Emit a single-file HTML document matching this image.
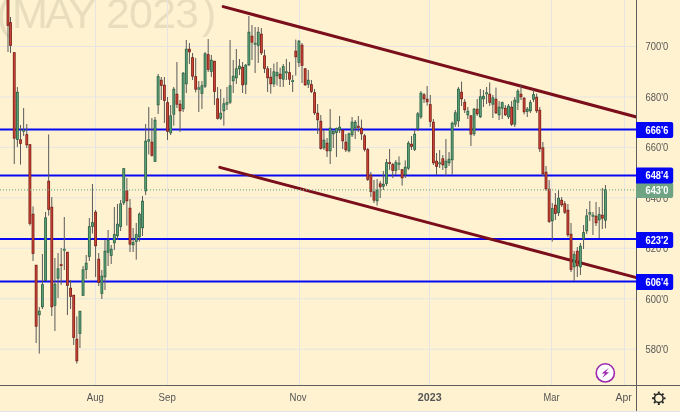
<!DOCTYPE html>
<html><head><meta charset="utf-8"><title>Chart</title>
<style>html,body{margin:0;padding:0;background:#FEF2D0;}body{width:680px;height:412px;overflow:hidden;}svg{display:block;will-change:transform;}text{font-family:"Liberation Sans",sans-serif;}</style>
</head><body>
<svg width="680" height="412" viewBox="0 0 680 412">
<rect x="0" y="0" width="680" height="412" fill="#FEF2D0"/>
<text x="-3.5 12 45 68 92 106 129 152.3 175 202" y="27.7" font-size="43" fill="#E8DDBC">(MAY 2023)</text>
<defs><clipPath id="plot"><rect x="0" y="0" width="636" height="385"/></clipPath></defs>
<g clip-path="url(#plot)">
<line x1="95.5" y1="0" x2="95.5" y2="385" stroke="#E7E5E3" stroke-width="1"/>
<line x1="167.5" y1="0" x2="167.5" y2="385" stroke="#E7E5E3" stroke-width="1"/>
<line x1="299.5" y1="0" x2="299.5" y2="385" stroke="#E7E5E3" stroke-width="1"/>
<line x1="429.5" y1="0" x2="429.5" y2="385" stroke="#E7E5E3" stroke-width="1"/>
<line x1="551.5" y1="0" x2="551.5" y2="385" stroke="#E7E5E3" stroke-width="1"/>
<line x1="624.5" y1="0" x2="624.5" y2="385" stroke="#E7E5E3" stroke-width="1"/>
<line x1="0" y1="46.5" x2="636" y2="46.5" stroke="#E7E5E3" stroke-width="1"/>
<line x1="0" y1="97.0" x2="636" y2="97.0" stroke="#E7E5E3" stroke-width="1"/>
<line x1="0" y1="147.4" x2="636" y2="147.4" stroke="#E7E5E3" stroke-width="1"/>
<line x1="0" y1="197.8" x2="636" y2="197.8" stroke="#E7E5E3" stroke-width="1"/>
<line x1="0" y1="248.3" x2="636" y2="248.3" stroke="#E7E5E3" stroke-width="1"/>
<line x1="0" y1="298.8" x2="636" y2="298.8" stroke="#E7E5E3" stroke-width="1"/>
<line x1="0" y1="349.2" x2="636" y2="349.2" stroke="#E7E5E3" stroke-width="1"/>
<line x1="0" y1="129.5" x2="636" y2="129.5" stroke="#0808F2" stroke-width="2"/>
<line x1="0" y1="175.5" x2="636" y2="175.5" stroke="#0808F2" stroke-width="2"/>
<line x1="0" y1="239.1" x2="636" y2="239.1" stroke="#0808F2" stroke-width="2"/>
<line x1="0" y1="281.5" x2="636" y2="281.5" stroke="#0808F2" stroke-width="2"/>
<line x1="223.2" y1="6.6" x2="640" y2="117.9" stroke="#7B0E1B" stroke-width="3" stroke-linecap="round"/>
<line x1="219.8" y1="167.4" x2="640" y2="278.6" stroke="#7B0E1B" stroke-width="3" stroke-linecap="round"/>
<line x1="8.00" y1="-5.0" x2="8.00" y2="52.0" stroke="#5a5a5a" stroke-width="1"/>
<rect x="6.60" y="-5.2" width="2.8" height="31.0" fill="#74201A"/>
<rect x="7.35" y="-4.4" width="1.3" height="29.4" fill="#CA4233"/>
<line x1="10.50" y1="17.0" x2="10.50" y2="53.0" stroke="#5a5a5a" stroke-width="1"/>
<rect x="9.10" y="22.2" width="2.8" height="23.6" fill="#74201A"/>
<rect x="9.85" y="23.0" width="1.3" height="22.0" fill="#CA4233"/>
<line x1="14.26" y1="52.4" x2="14.26" y2="164.0" stroke="#5a5a5a" stroke-width="1"/>
<rect x="12.86" y="52.2" width="2.8" height="86.4" fill="#74201A"/>
<rect x="13.61" y="53.0" width="1.3" height="84.8" fill="#CA4233"/>
<line x1="17.38" y1="87.0" x2="17.38" y2="147.0" stroke="#5a5a5a" stroke-width="1"/>
<rect x="15.98" y="91.8" width="2.8" height="48.0" fill="#2A6042"/>
<rect x="16.73" y="92.6" width="1.3" height="46.4" fill="#5A9E78"/>
<line x1="20.51" y1="125.0" x2="20.51" y2="164.6" stroke="#5a5a5a" stroke-width="1"/>
<rect x="19.11" y="139.4" width="2.8" height="4.4" fill="#74201A"/>
<rect x="19.86" y="140.2" width="1.3" height="2.8" fill="#CA4233"/>
<line x1="23.64" y1="108.0" x2="23.64" y2="136.0" stroke="#5a5a5a" stroke-width="1"/>
<rect x="22.24" y="129.8" width="2.8" height="1.8" fill="#2A6042"/>
<rect x="22.99" y="130.2" width="1.3" height="1.0" fill="#5A9E78"/>
<line x1="26.77" y1="124.0" x2="26.77" y2="148.0" stroke="#5a5a5a" stroke-width="1"/>
<rect x="25.37" y="134.2" width="2.8" height="11.0" fill="#74201A"/>
<rect x="26.12" y="135.0" width="1.3" height="9.4" fill="#CA4233"/>
<line x1="29.90" y1="144.4" x2="29.90" y2="225.6" stroke="#5a5a5a" stroke-width="1"/>
<rect x="28.50" y="144.2" width="2.8" height="79.6" fill="#74201A"/>
<rect x="29.25" y="145.0" width="1.3" height="78.0" fill="#CA4233"/>
<line x1="33.02" y1="206.4" x2="33.02" y2="261.0" stroke="#5a5a5a" stroke-width="1"/>
<rect x="31.62" y="213.8" width="2.8" height="40.0" fill="#74201A"/>
<rect x="32.37" y="214.6" width="1.3" height="38.4" fill="#CA4233"/>
<line x1="36.15" y1="265.0" x2="36.15" y2="343.0" stroke="#5a5a5a" stroke-width="1"/>
<rect x="34.75" y="264.8" width="2.8" height="61.8" fill="#74201A"/>
<rect x="35.50" y="265.6" width="1.3" height="60.2" fill="#CA4233"/>
<line x1="39.28" y1="307.0" x2="39.28" y2="353.6" stroke="#5a5a5a" stroke-width="1"/>
<rect x="37.88" y="310.8" width="2.8" height="4.4" fill="#2A6042"/>
<rect x="38.63" y="311.6" width="1.3" height="2.8" fill="#5A9E78"/>
<line x1="42.41" y1="254.0" x2="42.41" y2="309.0" stroke="#5a5a5a" stroke-width="1"/>
<rect x="41.01" y="284.2" width="2.8" height="23.0" fill="#2A6042"/>
<rect x="41.76" y="285.0" width="1.3" height="21.4" fill="#5A9E78"/>
<line x1="45.54" y1="212.0" x2="45.54" y2="280.6" stroke="#5a5a5a" stroke-width="1"/>
<rect x="44.14" y="217.4" width="2.8" height="63.4" fill="#2A6042"/>
<rect x="44.89" y="218.2" width="1.3" height="61.8" fill="#5A9E78"/>
<line x1="48.66" y1="134.4" x2="48.66" y2="215.6" stroke="#5a5a5a" stroke-width="1"/>
<rect x="47.26" y="180.8" width="2.8" height="29.0" fill="#74201A"/>
<rect x="48.01" y="181.6" width="1.3" height="27.4" fill="#CA4233"/>
<line x1="51.79" y1="197.0" x2="51.79" y2="316.0" stroke="#5a5a5a" stroke-width="1"/>
<rect x="50.39" y="206.8" width="2.8" height="100.4" fill="#74201A"/>
<rect x="51.14" y="207.6" width="1.3" height="98.8" fill="#CA4233"/>
<line x1="54.92" y1="258.0" x2="54.92" y2="331.0" stroke="#5a5a5a" stroke-width="1"/>
<rect x="53.52" y="283.8" width="2.8" height="22.0" fill="#2A6042"/>
<rect x="54.27" y="284.6" width="1.3" height="20.4" fill="#5A9E78"/>
<line x1="58.05" y1="253.0" x2="58.05" y2="298.0" stroke="#5a5a5a" stroke-width="1"/>
<rect x="56.65" y="268.4" width="2.8" height="10.2" fill="#2A6042"/>
<rect x="57.40" y="269.2" width="1.3" height="8.6" fill="#5A9E78"/>
<line x1="61.18" y1="248.0" x2="61.18" y2="285.0" stroke="#5a5a5a" stroke-width="1"/>
<rect x="59.78" y="264.2" width="2.8" height="1.8" fill="#74201A"/>
<rect x="60.53" y="264.6" width="1.3" height="1.0" fill="#CA4233"/>
<line x1="64.30" y1="217.0" x2="64.30" y2="270.0" stroke="#5a5a5a" stroke-width="1"/>
<rect x="62.90" y="248.8" width="2.8" height="1.8" fill="#2A6042"/>
<rect x="63.65" y="249.2" width="1.3" height="1.0" fill="#5A9E78"/>
<line x1="67.43" y1="252.0" x2="67.43" y2="315.0" stroke="#5a5a5a" stroke-width="1"/>
<rect x="66.03" y="251.8" width="2.8" height="34.0" fill="#74201A"/>
<rect x="66.78" y="252.6" width="1.3" height="32.4" fill="#CA4233"/>
<line x1="70.56" y1="280.0" x2="70.56" y2="309.0" stroke="#5a5a5a" stroke-width="1"/>
<rect x="69.16" y="287.8" width="2.8" height="9.0" fill="#74201A"/>
<rect x="69.91" y="288.6" width="1.3" height="7.4" fill="#CA4233"/>
<line x1="73.69" y1="295.0" x2="73.69" y2="345.0" stroke="#5a5a5a" stroke-width="1"/>
<rect x="72.29" y="294.8" width="2.8" height="43.0" fill="#74201A"/>
<rect x="73.04" y="295.6" width="1.3" height="41.4" fill="#CA4233"/>
<line x1="76.82" y1="316.4" x2="76.82" y2="363.6" stroke="#5a5a5a" stroke-width="1"/>
<rect x="75.42" y="338.8" width="2.8" height="22.4" fill="#74201A"/>
<rect x="76.17" y="339.6" width="1.3" height="20.8" fill="#CA4233"/>
<line x1="79.94" y1="311.0" x2="79.94" y2="348.0" stroke="#5a5a5a" stroke-width="1"/>
<rect x="78.54" y="310.8" width="2.8" height="23.0" fill="#2A6042"/>
<rect x="79.29" y="311.6" width="1.3" height="21.4" fill="#5A9E78"/>
<line x1="83.07" y1="266.0" x2="83.07" y2="295.6" stroke="#5a5a5a" stroke-width="1"/>
<rect x="81.67" y="269.4" width="2.8" height="26.4" fill="#2A6042"/>
<rect x="82.42" y="270.2" width="1.3" height="24.8" fill="#5A9E78"/>
<line x1="86.20" y1="255.0" x2="86.20" y2="279.0" stroke="#5a5a5a" stroke-width="1"/>
<rect x="84.80" y="262.8" width="2.8" height="7.0" fill="#2A6042"/>
<rect x="85.55" y="263.6" width="1.3" height="5.4" fill="#5A9E78"/>
<line x1="89.33" y1="218.0" x2="89.33" y2="261.0" stroke="#5a5a5a" stroke-width="1"/>
<rect x="87.93" y="226.2" width="2.8" height="30.6" fill="#2A6042"/>
<rect x="88.68" y="227.0" width="1.3" height="29.0" fill="#5A9E78"/>
<line x1="92.46" y1="184.0" x2="92.46" y2="233.6" stroke="#5a5a5a" stroke-width="1"/>
<rect x="91.06" y="222.2" width="2.8" height="4.6" fill="#2A6042"/>
<rect x="91.81" y="223.0" width="1.3" height="3.0" fill="#5A9E78"/>
<line x1="95.58" y1="210.0" x2="95.58" y2="277.0" stroke="#5a5a5a" stroke-width="1"/>
<rect x="94.18" y="211.8" width="2.8" height="34.4" fill="#74201A"/>
<rect x="94.93" y="212.6" width="1.3" height="32.8" fill="#CA4233"/>
<line x1="98.71" y1="253.0" x2="98.71" y2="286.0" stroke="#5a5a5a" stroke-width="1"/>
<rect x="97.31" y="258.8" width="2.8" height="24.0" fill="#74201A"/>
<rect x="98.06" y="259.6" width="1.3" height="22.4" fill="#CA4233"/>
<line x1="101.84" y1="270.0" x2="101.84" y2="299.0" stroke="#5a5a5a" stroke-width="1"/>
<rect x="100.44" y="275.8" width="2.8" height="18.0" fill="#2A6042"/>
<rect x="101.19" y="276.6" width="1.3" height="16.4" fill="#5A9E78"/>
<line x1="104.97" y1="240.0" x2="104.97" y2="290.0" stroke="#5a5a5a" stroke-width="1"/>
<rect x="103.57" y="250.8" width="2.8" height="26.4" fill="#2A6042"/>
<rect x="104.32" y="251.6" width="1.3" height="24.8" fill="#5A9E78"/>
<line x1="108.10" y1="230.0" x2="108.10" y2="266.0" stroke="#5a5a5a" stroke-width="1"/>
<rect x="106.70" y="240.2" width="2.8" height="12.4" fill="#2A6042"/>
<rect x="107.45" y="241.0" width="1.3" height="10.8" fill="#5A9E78"/>
<line x1="111.22" y1="245.0" x2="111.22" y2="264.0" stroke="#5a5a5a" stroke-width="1"/>
<rect x="109.82" y="248.8" width="2.8" height="7.0" fill="#2A6042"/>
<rect x="110.57" y="249.6" width="1.3" height="5.4" fill="#5A9E78"/>
<line x1="114.35" y1="207.0" x2="114.35" y2="250.0" stroke="#5a5a5a" stroke-width="1"/>
<rect x="112.95" y="234.2" width="2.8" height="9.0" fill="#2A6042"/>
<rect x="113.70" y="235.0" width="1.3" height="7.4" fill="#5A9E78"/>
<line x1="117.48" y1="204.0" x2="117.48" y2="240.0" stroke="#5a5a5a" stroke-width="1"/>
<rect x="116.08" y="223.8" width="2.8" height="12.4" fill="#2A6042"/>
<rect x="116.83" y="224.6" width="1.3" height="10.8" fill="#5A9E78"/>
<line x1="120.61" y1="200.0" x2="120.61" y2="231.0" stroke="#5a5a5a" stroke-width="1"/>
<rect x="119.21" y="203.4" width="2.8" height="23.4" fill="#2A6042"/>
<rect x="119.96" y="204.2" width="1.3" height="21.8" fill="#5A9E78"/>
<line x1="123.74" y1="168.4" x2="123.74" y2="205.0" stroke="#5a5a5a" stroke-width="1"/>
<rect x="122.34" y="168.2" width="2.8" height="35.0" fill="#2A6042"/>
<rect x="123.09" y="169.0" width="1.3" height="33.4" fill="#5A9E78"/>
<line x1="126.86" y1="178.0" x2="126.86" y2="225.6" stroke="#5a5a5a" stroke-width="1"/>
<rect x="125.46" y="190.4" width="2.8" height="10.8" fill="#74201A"/>
<rect x="126.21" y="191.2" width="1.3" height="9.2" fill="#CA4233"/>
<line x1="129.99" y1="199.0" x2="129.99" y2="252.0" stroke="#5a5a5a" stroke-width="1"/>
<rect x="128.59" y="207.8" width="2.8" height="36.8" fill="#74201A"/>
<rect x="129.34" y="208.6" width="1.3" height="35.2" fill="#CA4233"/>
<line x1="133.12" y1="228.0" x2="133.12" y2="252.0" stroke="#5a5a5a" stroke-width="1"/>
<rect x="131.72" y="242.2" width="2.8" height="3.0" fill="#2A6042"/>
<rect x="132.47" y="243.0" width="1.3" height="1.4" fill="#5A9E78"/>
<line x1="136.25" y1="223.0" x2="136.25" y2="259.6" stroke="#5a5a5a" stroke-width="1"/>
<rect x="134.85" y="234.2" width="2.8" height="7.6" fill="#2A6042"/>
<rect x="135.60" y="235.0" width="1.3" height="6.0" fill="#5A9E78"/>
<line x1="139.38" y1="212.4" x2="139.38" y2="241.6" stroke="#5a5a5a" stroke-width="1"/>
<rect x="137.98" y="213.8" width="2.8" height="23.4" fill="#2A6042"/>
<rect x="138.73" y="214.6" width="1.3" height="21.8" fill="#5A9E78"/>
<line x1="142.50" y1="196.0" x2="142.50" y2="236.0" stroke="#5a5a5a" stroke-width="1"/>
<rect x="141.10" y="200.8" width="2.8" height="27.4" fill="#2A6042"/>
<rect x="141.85" y="201.6" width="1.3" height="25.8" fill="#5A9E78"/>
<line x1="145.63" y1="124.0" x2="145.63" y2="195.0" stroke="#5a5a5a" stroke-width="1"/>
<rect x="144.23" y="140.8" width="2.8" height="50.4" fill="#2A6042"/>
<rect x="144.98" y="141.6" width="1.3" height="48.8" fill="#5A9E78"/>
<line x1="148.76" y1="107.0" x2="148.76" y2="154.5" stroke="#5a5a5a" stroke-width="1"/>
<rect x="147.36" y="139.2" width="2.8" height="2.4" fill="#2A6042"/>
<rect x="148.11" y="139.6" width="1.3" height="1.6" fill="#5A9E78"/>
<line x1="151.89" y1="118.0" x2="151.89" y2="156.6" stroke="#5a5a5a" stroke-width="1"/>
<rect x="150.49" y="141.8" width="2.8" height="14.0" fill="#74201A"/>
<rect x="151.24" y="142.6" width="1.3" height="12.4" fill="#CA4233"/>
<line x1="155.02" y1="117.0" x2="155.02" y2="161.6" stroke="#5a5a5a" stroke-width="1"/>
<rect x="153.62" y="119.8" width="2.8" height="42.0" fill="#2A6042"/>
<rect x="154.37" y="120.6" width="1.3" height="40.4" fill="#5A9E78"/>
<line x1="158.14" y1="74.0" x2="158.14" y2="114.0" stroke="#5a5a5a" stroke-width="1"/>
<rect x="156.74" y="76.2" width="2.8" height="29.0" fill="#2A6042"/>
<rect x="157.49" y="77.0" width="1.3" height="27.4" fill="#5A9E78"/>
<line x1="161.27" y1="77.0" x2="161.27" y2="100.0" stroke="#5a5a5a" stroke-width="1"/>
<rect x="159.87" y="79.8" width="2.8" height="6.0" fill="#74201A"/>
<rect x="160.62" y="80.6" width="1.3" height="4.4" fill="#CA4233"/>
<line x1="164.40" y1="77.0" x2="164.40" y2="123.0" stroke="#5a5a5a" stroke-width="1"/>
<rect x="163.00" y="84.8" width="2.8" height="16.0" fill="#74201A"/>
<rect x="163.75" y="85.6" width="1.3" height="14.4" fill="#CA4233"/>
<line x1="167.53" y1="97.0" x2="167.53" y2="140.0" stroke="#5a5a5a" stroke-width="1"/>
<rect x="166.13" y="102.2" width="2.8" height="29.6" fill="#74201A"/>
<rect x="166.88" y="103.0" width="1.3" height="28.0" fill="#CA4233"/>
<line x1="170.66" y1="105.0" x2="170.66" y2="135.0" stroke="#5a5a5a" stroke-width="1"/>
<rect x="169.26" y="115.4" width="2.8" height="17.8" fill="#2A6042"/>
<rect x="170.01" y="116.2" width="1.3" height="16.2" fill="#5A9E78"/>
<line x1="173.78" y1="87.0" x2="173.78" y2="125.6" stroke="#5a5a5a" stroke-width="1"/>
<rect x="172.38" y="88.8" width="2.8" height="25.8" fill="#2A6042"/>
<rect x="173.13" y="89.6" width="1.3" height="24.2" fill="#5A9E78"/>
<line x1="176.91" y1="62.0" x2="176.91" y2="108.0" stroke="#5a5a5a" stroke-width="1"/>
<rect x="175.51" y="93.8" width="2.8" height="10.8" fill="#74201A"/>
<rect x="176.26" y="94.6" width="1.3" height="9.2" fill="#CA4233"/>
<line x1="180.04" y1="100.0" x2="180.04" y2="132.0" stroke="#5a5a5a" stroke-width="1"/>
<rect x="178.64" y="103.8" width="2.8" height="7.4" fill="#74201A"/>
<rect x="179.39" y="104.6" width="1.3" height="5.8" fill="#CA4233"/>
<line x1="183.17" y1="72.0" x2="183.17" y2="112.0" stroke="#5a5a5a" stroke-width="1"/>
<rect x="181.77" y="72.8" width="2.8" height="36.4" fill="#2A6042"/>
<rect x="182.52" y="73.6" width="1.3" height="34.8" fill="#5A9E78"/>
<line x1="186.30" y1="40.0" x2="186.30" y2="93.0" stroke="#5a5a5a" stroke-width="1"/>
<rect x="184.90" y="48.8" width="2.8" height="35.4" fill="#2A6042"/>
<rect x="185.65" y="49.6" width="1.3" height="33.8" fill="#5A9E78"/>
<line x1="189.42" y1="43.0" x2="189.42" y2="64.0" stroke="#5a5a5a" stroke-width="1"/>
<rect x="188.02" y="48.8" width="2.8" height="3.4" fill="#74201A"/>
<rect x="188.77" y="49.6" width="1.3" height="1.8" fill="#CA4233"/>
<line x1="192.55" y1="53.0" x2="192.55" y2="80.0" stroke="#5a5a5a" stroke-width="1"/>
<rect x="191.15" y="57.2" width="2.8" height="19.4" fill="#74201A"/>
<rect x="191.90" y="58.0" width="1.3" height="17.8" fill="#CA4233"/>
<line x1="195.68" y1="58.0" x2="195.68" y2="92.4" stroke="#5a5a5a" stroke-width="1"/>
<rect x="194.28" y="76.2" width="2.8" height="13.4" fill="#74201A"/>
<rect x="195.03" y="77.0" width="1.3" height="11.8" fill="#CA4233"/>
<line x1="198.81" y1="81.0" x2="198.81" y2="112.0" stroke="#5a5a5a" stroke-width="1"/>
<rect x="197.41" y="87.4" width="2.8" height="2.2" fill="#2A6042"/>
<rect x="198.16" y="87.8" width="1.3" height="1.4" fill="#5A9E78"/>
<line x1="201.94" y1="81.0" x2="201.94" y2="109.0" stroke="#5a5a5a" stroke-width="1"/>
<rect x="200.54" y="85.4" width="2.8" height="8.4" fill="#2A6042"/>
<rect x="201.29" y="86.2" width="1.3" height="6.8" fill="#5A9E78"/>
<line x1="205.06" y1="52.0" x2="205.06" y2="88.0" stroke="#5a5a5a" stroke-width="1"/>
<rect x="203.66" y="53.4" width="2.8" height="33.2" fill="#2A6042"/>
<rect x="204.41" y="54.2" width="1.3" height="31.6" fill="#5A9E78"/>
<line x1="208.19" y1="39.0" x2="208.19" y2="72.0" stroke="#5a5a5a" stroke-width="1"/>
<rect x="206.79" y="54.2" width="2.8" height="15.6" fill="#74201A"/>
<rect x="207.54" y="55.0" width="1.3" height="14.0" fill="#CA4233"/>
<line x1="211.32" y1="55.0" x2="211.32" y2="77.0" stroke="#5a5a5a" stroke-width="1"/>
<rect x="209.92" y="59.8" width="2.8" height="12.0" fill="#2A6042"/>
<rect x="210.67" y="60.6" width="1.3" height="10.4" fill="#5A9E78"/>
<line x1="214.45" y1="61.0" x2="214.45" y2="105.0" stroke="#5a5a5a" stroke-width="1"/>
<rect x="213.05" y="60.8" width="2.8" height="31.0" fill="#74201A"/>
<rect x="213.80" y="61.6" width="1.3" height="29.4" fill="#CA4233"/>
<line x1="217.58" y1="87.0" x2="217.58" y2="119.6" stroke="#5a5a5a" stroke-width="1"/>
<rect x="216.18" y="98.4" width="2.8" height="20.4" fill="#74201A"/>
<rect x="216.93" y="99.2" width="1.3" height="18.8" fill="#CA4233"/>
<line x1="220.70" y1="89.0" x2="220.70" y2="120.0" stroke="#5a5a5a" stroke-width="1"/>
<rect x="219.30" y="112.8" width="2.8" height="5.8" fill="#2A6042"/>
<rect x="220.05" y="113.6" width="1.3" height="4.2" fill="#5A9E78"/>
<line x1="223.83" y1="98.0" x2="223.83" y2="125.6" stroke="#5a5a5a" stroke-width="1"/>
<rect x="222.43" y="103.4" width="2.8" height="7.8" fill="#2A6042"/>
<rect x="223.18" y="104.2" width="1.3" height="6.2" fill="#5A9E78"/>
<line x1="226.96" y1="87.0" x2="226.96" y2="110.0" stroke="#5a5a5a" stroke-width="1"/>
<rect x="225.56" y="102.2" width="2.8" height="2.4" fill="#2A6042"/>
<rect x="226.31" y="102.6" width="1.3" height="1.6" fill="#5A9E78"/>
<line x1="230.09" y1="40.0" x2="230.09" y2="104.0" stroke="#5a5a5a" stroke-width="1"/>
<rect x="228.69" y="85.4" width="2.8" height="17.2" fill="#2A6042"/>
<rect x="229.44" y="86.2" width="1.3" height="15.6" fill="#5A9E78"/>
<line x1="233.22" y1="60.0" x2="233.22" y2="93.0" stroke="#5a5a5a" stroke-width="1"/>
<rect x="231.82" y="75.8" width="2.8" height="5.4" fill="#2A6042"/>
<rect x="232.57" y="76.6" width="1.3" height="3.8" fill="#5A9E78"/>
<line x1="236.34" y1="49.0" x2="236.34" y2="84.0" stroke="#5a5a5a" stroke-width="1"/>
<rect x="234.94" y="68.4" width="2.8" height="9.8" fill="#2A6042"/>
<rect x="235.69" y="69.2" width="1.3" height="8.2" fill="#5A9E78"/>
<line x1="239.47" y1="59.0" x2="239.47" y2="75.0" stroke="#5a5a5a" stroke-width="1"/>
<rect x="238.07" y="65.8" width="2.8" height="3.4" fill="#2A6042"/>
<rect x="238.82" y="66.6" width="1.3" height="1.8" fill="#5A9E78"/>
<line x1="242.60" y1="62.0" x2="242.60" y2="93.0" stroke="#5a5a5a" stroke-width="1"/>
<rect x="241.20" y="66.8" width="2.8" height="18.4" fill="#74201A"/>
<rect x="241.95" y="67.6" width="1.3" height="16.8" fill="#CA4233"/>
<line x1="245.73" y1="64.0" x2="245.73" y2="94.0" stroke="#5a5a5a" stroke-width="1"/>
<rect x="244.33" y="64.8" width="2.8" height="19.8" fill="#2A6042"/>
<rect x="245.08" y="65.6" width="1.3" height="18.2" fill="#5A9E78"/>
<line x1="248.86" y1="16.0" x2="248.86" y2="66.0" stroke="#5a5a5a" stroke-width="1"/>
<rect x="247.46" y="31.8" width="2.8" height="33.4" fill="#2A6042"/>
<rect x="248.21" y="32.6" width="1.3" height="31.8" fill="#5A9E78"/>
<line x1="251.98" y1="25.0" x2="251.98" y2="60.0" stroke="#5a5a5a" stroke-width="1"/>
<rect x="250.58" y="35.8" width="2.8" height="6.8" fill="#74201A"/>
<rect x="251.33" y="36.6" width="1.3" height="5.2" fill="#CA4233"/>
<line x1="255.11" y1="27.0" x2="255.11" y2="73.0" stroke="#5a5a5a" stroke-width="1"/>
<rect x="253.71" y="42.8" width="2.8" height="1.8" fill="#2A6042"/>
<rect x="254.46" y="43.2" width="1.3" height="1.0" fill="#5A9E78"/>
<line x1="258.24" y1="27.0" x2="258.24" y2="63.0" stroke="#5a5a5a" stroke-width="1"/>
<rect x="256.84" y="31.8" width="2.8" height="14.0" fill="#2A6042"/>
<rect x="257.59" y="32.6" width="1.3" height="12.4" fill="#5A9E78"/>
<line x1="261.37" y1="28.0" x2="261.37" y2="55.0" stroke="#5a5a5a" stroke-width="1"/>
<rect x="259.97" y="33.8" width="2.8" height="19.4" fill="#74201A"/>
<rect x="260.72" y="34.6" width="1.3" height="17.8" fill="#CA4233"/>
<line x1="264.50" y1="49.6" x2="264.50" y2="73.0" stroke="#5a5a5a" stroke-width="1"/>
<rect x="263.10" y="55.4" width="2.8" height="13.4" fill="#74201A"/>
<rect x="263.85" y="56.2" width="1.3" height="11.8" fill="#CA4233"/>
<line x1="267.62" y1="66.0" x2="267.62" y2="92.0" stroke="#5a5a5a" stroke-width="1"/>
<rect x="266.22" y="68.4" width="2.8" height="9.8" fill="#74201A"/>
<rect x="266.97" y="69.2" width="1.3" height="8.2" fill="#CA4233"/>
<line x1="270.75" y1="68.0" x2="270.75" y2="93.6" stroke="#5a5a5a" stroke-width="1"/>
<rect x="269.35" y="76.8" width="2.8" height="7.4" fill="#74201A"/>
<rect x="270.10" y="77.6" width="1.3" height="5.8" fill="#CA4233"/>
<line x1="273.88" y1="63.6" x2="273.88" y2="87.0" stroke="#5a5a5a" stroke-width="1"/>
<rect x="272.48" y="71.4" width="2.8" height="12.8" fill="#2A6042"/>
<rect x="273.23" y="72.2" width="1.3" height="11.2" fill="#5A9E78"/>
<line x1="277.01" y1="62.0" x2="277.01" y2="85.6" stroke="#5a5a5a" stroke-width="1"/>
<rect x="275.61" y="72.2" width="2.8" height="4.0" fill="#2A6042"/>
<rect x="276.36" y="73.0" width="1.3" height="2.4" fill="#5A9E78"/>
<line x1="280.14" y1="67.6" x2="280.14" y2="87.0" stroke="#5a5a5a" stroke-width="1"/>
<rect x="278.74" y="73.8" width="2.8" height="5.0" fill="#74201A"/>
<rect x="279.49" y="74.6" width="1.3" height="3.4" fill="#CA4233"/>
<line x1="283.26" y1="64.0" x2="283.26" y2="87.0" stroke="#5a5a5a" stroke-width="1"/>
<rect x="281.86" y="66.2" width="2.8" height="13.4" fill="#2A6042"/>
<rect x="282.61" y="67.0" width="1.3" height="11.8" fill="#5A9E78"/>
<line x1="286.39" y1="59.0" x2="286.39" y2="80.0" stroke="#5a5a5a" stroke-width="1"/>
<rect x="284.99" y="71.4" width="2.8" height="1.8" fill="#2A6042"/>
<rect x="285.74" y="71.8" width="1.3" height="1.0" fill="#5A9E78"/>
<line x1="289.52" y1="62.0" x2="289.52" y2="85.0" stroke="#5a5a5a" stroke-width="1"/>
<rect x="288.12" y="72.2" width="2.8" height="7.4" fill="#74201A"/>
<rect x="288.87" y="73.0" width="1.3" height="5.8" fill="#CA4233"/>
<line x1="292.65" y1="75.0" x2="292.65" y2="92.0" stroke="#5a5a5a" stroke-width="1"/>
<rect x="291.25" y="80.2" width="2.8" height="1.8" fill="#2A6042"/>
<rect x="292.00" y="80.6" width="1.3" height="1.0" fill="#5A9E78"/>
<line x1="295.78" y1="39.6" x2="295.78" y2="75.6" stroke="#5a5a5a" stroke-width="1"/>
<rect x="294.38" y="50.8" width="2.8" height="6.4" fill="#74201A"/>
<rect x="295.13" y="51.6" width="1.3" height="4.8" fill="#CA4233"/>
<line x1="298.90" y1="40.0" x2="298.90" y2="67.0" stroke="#5a5a5a" stroke-width="1"/>
<rect x="297.50" y="40.8" width="2.8" height="22.0" fill="#2A6042"/>
<rect x="298.25" y="41.6" width="1.3" height="20.4" fill="#5A9E78"/>
<line x1="302.03" y1="43.0" x2="302.03" y2="83.0" stroke="#5a5a5a" stroke-width="1"/>
<rect x="300.63" y="44.8" width="2.8" height="21.0" fill="#74201A"/>
<rect x="301.38" y="45.6" width="1.3" height="19.4" fill="#CA4233"/>
<line x1="305.16" y1="68.0" x2="305.16" y2="86.0" stroke="#5a5a5a" stroke-width="1"/>
<rect x="303.76" y="68.4" width="2.8" height="16.8" fill="#74201A"/>
<rect x="304.51" y="69.2" width="1.3" height="15.2" fill="#CA4233"/>
<line x1="308.29" y1="70.0" x2="308.29" y2="88.0" stroke="#5a5a5a" stroke-width="1"/>
<rect x="306.89" y="79.8" width="2.8" height="4.8" fill="#2A6042"/>
<rect x="307.64" y="80.6" width="1.3" height="3.2" fill="#5A9E78"/>
<line x1="311.42" y1="80.0" x2="311.42" y2="93.0" stroke="#5a5a5a" stroke-width="1"/>
<rect x="310.02" y="84.2" width="2.8" height="7.6" fill="#74201A"/>
<rect x="310.77" y="85.0" width="1.3" height="6.0" fill="#CA4233"/>
<line x1="314.54" y1="89.0" x2="314.54" y2="115.0" stroke="#5a5a5a" stroke-width="1"/>
<rect x="313.14" y="92.2" width="2.8" height="21.0" fill="#74201A"/>
<rect x="313.89" y="93.0" width="1.3" height="19.4" fill="#CA4233"/>
<line x1="317.67" y1="104.0" x2="317.67" y2="134.0" stroke="#5a5a5a" stroke-width="1"/>
<rect x="316.27" y="112.8" width="2.8" height="7.4" fill="#74201A"/>
<rect x="317.02" y="113.6" width="1.3" height="5.8" fill="#CA4233"/>
<line x1="320.80" y1="115.0" x2="320.80" y2="149.6" stroke="#5a5a5a" stroke-width="1"/>
<rect x="319.40" y="120.8" width="2.8" height="28.0" fill="#74201A"/>
<rect x="320.15" y="121.6" width="1.3" height="26.4" fill="#CA4233"/>
<line x1="323.93" y1="130.0" x2="323.93" y2="150.0" stroke="#5a5a5a" stroke-width="1"/>
<rect x="322.53" y="139.8" width="2.8" height="8.4" fill="#2A6042"/>
<rect x="323.28" y="140.6" width="1.3" height="6.8" fill="#5A9E78"/>
<line x1="327.06" y1="138.0" x2="327.06" y2="157.0" stroke="#5a5a5a" stroke-width="1"/>
<rect x="325.66" y="142.8" width="2.8" height="8.4" fill="#74201A"/>
<rect x="326.41" y="143.6" width="1.3" height="6.8" fill="#CA4233"/>
<line x1="330.18" y1="109.0" x2="330.18" y2="164.0" stroke="#5a5a5a" stroke-width="1"/>
<rect x="328.78" y="127.8" width="2.8" height="23.4" fill="#2A6042"/>
<rect x="329.53" y="128.6" width="1.3" height="21.8" fill="#5A9E78"/>
<line x1="333.31" y1="131.0" x2="333.31" y2="148.0" stroke="#5a5a5a" stroke-width="1"/>
<rect x="331.91" y="130.8" width="2.8" height="3.4" fill="#2A6042"/>
<rect x="332.66" y="131.6" width="1.3" height="1.8" fill="#5A9E78"/>
<line x1="336.44" y1="127.5" x2="336.44" y2="157.0" stroke="#5a5a5a" stroke-width="1"/>
<rect x="335.04" y="128.1" width="2.8" height="4.7" fill="#2A6042"/>
<rect x="335.79" y="128.9" width="1.3" height="3.1" fill="#5A9E78"/>
<line x1="339.57" y1="116.0" x2="339.57" y2="133.0" stroke="#5a5a5a" stroke-width="1"/>
<rect x="338.17" y="126.8" width="2.8" height="3.2" fill="#2A6042"/>
<rect x="338.92" y="127.6" width="1.3" height="1.6" fill="#5A9E78"/>
<line x1="342.70" y1="129.6" x2="342.70" y2="149.0" stroke="#5a5a5a" stroke-width="1"/>
<rect x="341.30" y="129.8" width="2.8" height="11.4" fill="#74201A"/>
<rect x="342.05" y="130.6" width="1.3" height="9.8" fill="#CA4233"/>
<line x1="345.82" y1="134.0" x2="345.82" y2="152.0" stroke="#5a5a5a" stroke-width="1"/>
<rect x="344.42" y="141.8" width="2.8" height="8.4" fill="#74201A"/>
<rect x="345.17" y="142.6" width="1.3" height="6.8" fill="#CA4233"/>
<line x1="348.95" y1="132.6" x2="348.95" y2="152.4" stroke="#5a5a5a" stroke-width="1"/>
<rect x="347.55" y="133.4" width="2.8" height="17.8" fill="#2A6042"/>
<rect x="348.30" y="134.2" width="1.3" height="16.2" fill="#5A9E78"/>
<line x1="352.08" y1="117.0" x2="352.08" y2="137.0" stroke="#5a5a5a" stroke-width="1"/>
<rect x="350.68" y="121.8" width="2.8" height="13.4" fill="#2A6042"/>
<rect x="351.43" y="122.6" width="1.3" height="11.8" fill="#5A9E78"/>
<line x1="355.21" y1="120.0" x2="355.21" y2="139.0" stroke="#5a5a5a" stroke-width="1"/>
<rect x="353.81" y="121.8" width="2.8" height="6.4" fill="#2A6042"/>
<rect x="354.56" y="122.6" width="1.3" height="4.8" fill="#5A9E78"/>
<line x1="358.34" y1="116.0" x2="358.34" y2="132.0" stroke="#5a5a5a" stroke-width="1"/>
<rect x="356.94" y="125.8" width="2.8" height="2.0" fill="#74201A"/>
<rect x="357.69" y="126.2" width="1.3" height="1.2" fill="#CA4233"/>
<line x1="361.46" y1="119.6" x2="361.46" y2="140.0" stroke="#5a5a5a" stroke-width="1"/>
<rect x="360.06" y="127.8" width="2.8" height="6.4" fill="#74201A"/>
<rect x="360.81" y="128.6" width="1.3" height="4.8" fill="#CA4233"/>
<line x1="364.59" y1="134.0" x2="364.59" y2="151.6" stroke="#5a5a5a" stroke-width="1"/>
<rect x="363.19" y="135.4" width="2.8" height="14.4" fill="#74201A"/>
<rect x="363.94" y="136.2" width="1.3" height="12.8" fill="#CA4233"/>
<line x1="367.72" y1="148.0" x2="367.72" y2="181.0" stroke="#5a5a5a" stroke-width="1"/>
<rect x="366.32" y="149.2" width="2.8" height="30.6" fill="#74201A"/>
<rect x="367.07" y="150.0" width="1.3" height="29.0" fill="#CA4233"/>
<line x1="370.85" y1="172.0" x2="370.85" y2="197.0" stroke="#5a5a5a" stroke-width="1"/>
<rect x="369.45" y="174.8" width="2.8" height="17.0" fill="#74201A"/>
<rect x="370.20" y="175.6" width="1.3" height="15.4" fill="#CA4233"/>
<line x1="373.98" y1="180.0" x2="373.98" y2="203.0" stroke="#5a5a5a" stroke-width="1"/>
<rect x="372.58" y="191.4" width="2.8" height="9.2" fill="#74201A"/>
<rect x="373.33" y="192.2" width="1.3" height="7.6" fill="#CA4233"/>
<line x1="377.10" y1="179.0" x2="377.10" y2="205.6" stroke="#5a5a5a" stroke-width="1"/>
<rect x="375.70" y="189.8" width="2.8" height="11.4" fill="#2A6042"/>
<rect x="376.45" y="190.6" width="1.3" height="9.8" fill="#5A9E78"/>
<line x1="380.23" y1="181.0" x2="380.23" y2="198.0" stroke="#5a5a5a" stroke-width="1"/>
<rect x="378.83" y="183.4" width="2.8" height="3.8" fill="#74201A"/>
<rect x="379.58" y="184.2" width="1.3" height="2.2" fill="#CA4233"/>
<line x1="383.36" y1="171.0" x2="383.36" y2="190.0" stroke="#5a5a5a" stroke-width="1"/>
<rect x="381.96" y="183.8" width="2.8" height="2.8" fill="#2A6042"/>
<rect x="382.71" y="184.6" width="1.3" height="1.2" fill="#5A9E78"/>
<line x1="386.49" y1="159.0" x2="386.49" y2="186.0" stroke="#5a5a5a" stroke-width="1"/>
<rect x="385.09" y="162.2" width="2.8" height="21.6" fill="#2A6042"/>
<rect x="385.84" y="163.0" width="1.3" height="20.0" fill="#5A9E78"/>
<line x1="389.62" y1="149.0" x2="389.62" y2="170.0" stroke="#5a5a5a" stroke-width="1"/>
<rect x="388.22" y="162.2" width="2.8" height="1.8" fill="#74201A"/>
<rect x="388.97" y="162.6" width="1.3" height="1.0" fill="#CA4233"/>
<line x1="392.74" y1="163.0" x2="392.74" y2="178.0" stroke="#5a5a5a" stroke-width="1"/>
<rect x="391.34" y="164.2" width="2.8" height="6.6" fill="#74201A"/>
<rect x="392.09" y="165.0" width="1.3" height="5.0" fill="#CA4233"/>
<line x1="395.87" y1="160.0" x2="395.87" y2="175.0" stroke="#5a5a5a" stroke-width="1"/>
<rect x="394.47" y="162.2" width="2.8" height="8.6" fill="#2A6042"/>
<rect x="395.22" y="163.0" width="1.3" height="7.0" fill="#5A9E78"/>
<line x1="399.00" y1="156.4" x2="399.00" y2="170.0" stroke="#5a5a5a" stroke-width="1"/>
<rect x="397.60" y="162.8" width="2.8" height="1.8" fill="#2A6042"/>
<rect x="398.35" y="163.2" width="1.3" height="1.0" fill="#5A9E78"/>
<line x1="402.13" y1="169.0" x2="402.13" y2="185.6" stroke="#5a5a5a" stroke-width="1"/>
<rect x="400.73" y="169.2" width="2.8" height="9.0" fill="#74201A"/>
<rect x="401.48" y="170.0" width="1.3" height="7.4" fill="#CA4233"/>
<line x1="405.26" y1="160.4" x2="405.26" y2="178.0" stroke="#5a5a5a" stroke-width="1"/>
<rect x="403.86" y="166.8" width="2.8" height="8.4" fill="#2A6042"/>
<rect x="404.61" y="167.6" width="1.3" height="6.8" fill="#5A9E78"/>
<line x1="408.38" y1="141.0" x2="408.38" y2="170.0" stroke="#5a5a5a" stroke-width="1"/>
<rect x="406.98" y="142.8" width="2.8" height="25.8" fill="#2A6042"/>
<rect x="407.73" y="143.6" width="1.3" height="24.2" fill="#5A9E78"/>
<line x1="411.51" y1="136.0" x2="411.51" y2="150.0" stroke="#5a5a5a" stroke-width="1"/>
<rect x="410.11" y="143.8" width="2.8" height="3.0" fill="#74201A"/>
<rect x="410.86" y="144.6" width="1.3" height="1.4" fill="#CA4233"/>
<line x1="414.64" y1="129.6" x2="414.64" y2="151.0" stroke="#5a5a5a" stroke-width="1"/>
<rect x="413.24" y="133.8" width="2.8" height="16.0" fill="#2A6042"/>
<rect x="413.99" y="134.6" width="1.3" height="14.4" fill="#5A9E78"/>
<line x1="417.77" y1="112.0" x2="417.77" y2="131.0" stroke="#5a5a5a" stroke-width="1"/>
<rect x="416.37" y="113.4" width="2.8" height="15.4" fill="#2A6042"/>
<rect x="417.12" y="114.2" width="1.3" height="13.8" fill="#5A9E78"/>
<line x1="420.90" y1="91.0" x2="420.90" y2="119.0" stroke="#5a5a5a" stroke-width="1"/>
<rect x="419.50" y="92.8" width="2.8" height="24.4" fill="#2A6042"/>
<rect x="420.25" y="93.6" width="1.3" height="22.8" fill="#5A9E78"/>
<line x1="424.02" y1="93.0" x2="424.02" y2="103.0" stroke="#5a5a5a" stroke-width="1"/>
<rect x="422.62" y="94.4" width="2.8" height="4.8" fill="#74201A"/>
<rect x="423.37" y="95.2" width="1.3" height="3.2" fill="#CA4233"/>
<line x1="427.15" y1="86.0" x2="427.15" y2="105.6" stroke="#5a5a5a" stroke-width="1"/>
<rect x="425.75" y="98.8" width="2.8" height="3.4" fill="#74201A"/>
<rect x="426.50" y="99.6" width="1.3" height="1.8" fill="#CA4233"/>
<line x1="430.28" y1="95.0" x2="430.28" y2="127.0" stroke="#5a5a5a" stroke-width="1"/>
<rect x="428.88" y="104.2" width="2.8" height="17.6" fill="#74201A"/>
<rect x="429.63" y="105.0" width="1.3" height="16.0" fill="#CA4233"/>
<line x1="433.41" y1="119.0" x2="433.41" y2="165.0" stroke="#5a5a5a" stroke-width="1"/>
<rect x="432.01" y="121.8" width="2.8" height="41.4" fill="#74201A"/>
<rect x="432.76" y="122.6" width="1.3" height="39.8" fill="#CA4233"/>
<line x1="436.54" y1="153.0" x2="436.54" y2="175.0" stroke="#5a5a5a" stroke-width="1"/>
<rect x="435.14" y="160.8" width="2.8" height="6.0" fill="#74201A"/>
<rect x="435.89" y="161.6" width="1.3" height="4.4" fill="#CA4233"/>
<line x1="439.66" y1="150.0" x2="439.66" y2="168.0" stroke="#5a5a5a" stroke-width="1"/>
<rect x="438.26" y="162.4" width="2.8" height="1.8" fill="#2A6042"/>
<rect x="439.01" y="162.8" width="1.3" height="1.0" fill="#5A9E78"/>
<line x1="442.79" y1="155.0" x2="442.79" y2="170.0" stroke="#5a5a5a" stroke-width="1"/>
<rect x="441.39" y="158.4" width="2.8" height="6.8" fill="#74201A"/>
<rect x="442.14" y="159.2" width="1.3" height="5.2" fill="#CA4233"/>
<line x1="445.92" y1="139.0" x2="445.92" y2="175.6" stroke="#5a5a5a" stroke-width="1"/>
<rect x="444.52" y="160.8" width="2.8" height="7.0" fill="#2A6042"/>
<rect x="445.27" y="161.6" width="1.3" height="5.4" fill="#5A9E78"/>
<line x1="449.05" y1="152.0" x2="449.05" y2="166.0" stroke="#5a5a5a" stroke-width="1"/>
<rect x="447.65" y="158.8" width="2.8" height="4.4" fill="#2A6042"/>
<rect x="448.40" y="159.6" width="1.3" height="2.8" fill="#5A9E78"/>
<line x1="452.18" y1="121.6" x2="452.18" y2="174.4" stroke="#5a5a5a" stroke-width="1"/>
<rect x="450.78" y="122.8" width="2.8" height="37.4" fill="#2A6042"/>
<rect x="451.53" y="123.6" width="1.3" height="35.8" fill="#5A9E78"/>
<line x1="455.30" y1="110.0" x2="455.30" y2="127.0" stroke="#5a5a5a" stroke-width="1"/>
<rect x="453.90" y="112.4" width="2.8" height="12.2" fill="#2A6042"/>
<rect x="454.65" y="113.2" width="1.3" height="10.6" fill="#5A9E78"/>
<line x1="458.43" y1="87.0" x2="458.43" y2="127.0" stroke="#5a5a5a" stroke-width="1"/>
<rect x="457.03" y="88.8" width="2.8" height="32.4" fill="#2A6042"/>
<rect x="457.78" y="89.6" width="1.3" height="30.8" fill="#5A9E78"/>
<line x1="461.56" y1="81.6" x2="461.56" y2="106.0" stroke="#5a5a5a" stroke-width="1"/>
<rect x="460.16" y="91.8" width="2.8" height="7.4" fill="#74201A"/>
<rect x="460.91" y="92.6" width="1.3" height="5.8" fill="#CA4233"/>
<line x1="464.69" y1="99.0" x2="464.69" y2="113.0" stroke="#5a5a5a" stroke-width="1"/>
<rect x="463.29" y="101.8" width="2.8" height="8.4" fill="#74201A"/>
<rect x="464.04" y="102.6" width="1.3" height="6.8" fill="#CA4233"/>
<line x1="467.82" y1="107.0" x2="467.82" y2="119.0" stroke="#5a5a5a" stroke-width="1"/>
<rect x="466.42" y="110.8" width="2.8" height="4.4" fill="#2A6042"/>
<rect x="467.17" y="111.6" width="1.3" height="2.8" fill="#5A9E78"/>
<line x1="470.94" y1="115.0" x2="470.94" y2="146.0" stroke="#5a5a5a" stroke-width="1"/>
<rect x="469.54" y="115.4" width="2.8" height="19.2" fill="#74201A"/>
<rect x="470.29" y="116.2" width="1.3" height="17.6" fill="#CA4233"/>
<line x1="474.07" y1="108.0" x2="474.07" y2="136.0" stroke="#5a5a5a" stroke-width="1"/>
<rect x="472.67" y="108.8" width="2.8" height="25.4" fill="#2A6042"/>
<rect x="473.42" y="109.6" width="1.3" height="23.8" fill="#5A9E78"/>
<line x1="477.20" y1="99.0" x2="477.20" y2="116.0" stroke="#5a5a5a" stroke-width="1"/>
<rect x="475.80" y="108.8" width="2.8" height="5.4" fill="#74201A"/>
<rect x="476.55" y="109.6" width="1.3" height="3.8" fill="#CA4233"/>
<line x1="480.33" y1="89.0" x2="480.33" y2="118.0" stroke="#5a5a5a" stroke-width="1"/>
<rect x="478.93" y="96.4" width="2.8" height="20.8" fill="#2A6042"/>
<rect x="479.68" y="97.2" width="1.3" height="19.2" fill="#5A9E78"/>
<line x1="483.46" y1="90.0" x2="483.46" y2="107.0" stroke="#5a5a5a" stroke-width="1"/>
<rect x="482.06" y="95.8" width="2.8" height="3.4" fill="#2A6042"/>
<rect x="482.81" y="96.6" width="1.3" height="1.8" fill="#5A9E78"/>
<line x1="486.58" y1="87.0" x2="486.58" y2="104.0" stroke="#5a5a5a" stroke-width="1"/>
<rect x="485.18" y="92.4" width="2.8" height="1.8" fill="#2A6042"/>
<rect x="485.93" y="92.8" width="1.3" height="1.0" fill="#5A9E78"/>
<line x1="489.71" y1="82.4" x2="489.71" y2="106.0" stroke="#5a5a5a" stroke-width="1"/>
<rect x="488.31" y="93.8" width="2.8" height="9.0" fill="#74201A"/>
<rect x="489.06" y="94.6" width="1.3" height="7.4" fill="#CA4233"/>
<line x1="492.84" y1="95.0" x2="492.84" y2="118.0" stroke="#5a5a5a" stroke-width="1"/>
<rect x="491.44" y="97.4" width="2.8" height="7.2" fill="#2A6042"/>
<rect x="492.19" y="98.2" width="1.3" height="5.6" fill="#5A9E78"/>
<line x1="495.97" y1="87.6" x2="495.97" y2="114.0" stroke="#5a5a5a" stroke-width="1"/>
<rect x="494.57" y="98.8" width="2.8" height="14.4" fill="#74201A"/>
<rect x="495.32" y="99.6" width="1.3" height="12.8" fill="#CA4233"/>
<line x1="499.10" y1="101.0" x2="499.10" y2="120.0" stroke="#5a5a5a" stroke-width="1"/>
<rect x="497.70" y="106.8" width="2.8" height="8.4" fill="#2A6042"/>
<rect x="498.45" y="107.6" width="1.3" height="6.8" fill="#5A9E78"/>
<line x1="502.22" y1="101.6" x2="502.22" y2="119.0" stroke="#5a5a5a" stroke-width="1"/>
<rect x="500.82" y="102.2" width="2.8" height="6.4" fill="#2A6042"/>
<rect x="501.57" y="103.0" width="1.3" height="4.8" fill="#5A9E78"/>
<line x1="505.35" y1="105.0" x2="505.35" y2="116.0" stroke="#5a5a5a" stroke-width="1"/>
<rect x="503.95" y="107.8" width="2.8" height="7.4" fill="#74201A"/>
<rect x="504.70" y="108.6" width="1.3" height="5.8" fill="#CA4233"/>
<line x1="508.48" y1="104.0" x2="508.48" y2="119.0" stroke="#5a5a5a" stroke-width="1"/>
<rect x="507.08" y="105.8" width="2.8" height="11.4" fill="#2A6042"/>
<rect x="507.83" y="106.6" width="1.3" height="9.8" fill="#5A9E78"/>
<line x1="511.61" y1="101.0" x2="511.61" y2="126.0" stroke="#5a5a5a" stroke-width="1"/>
<rect x="510.21" y="106.8" width="2.8" height="17.8" fill="#74201A"/>
<rect x="510.96" y="107.6" width="1.3" height="16.2" fill="#CA4233"/>
<line x1="514.74" y1="97.0" x2="514.74" y2="127.0" stroke="#5a5a5a" stroke-width="1"/>
<rect x="513.34" y="99.8" width="2.8" height="24.8" fill="#2A6042"/>
<rect x="514.09" y="100.6" width="1.3" height="23.2" fill="#5A9E78"/>
<line x1="517.86" y1="89.0" x2="517.86" y2="110.0" stroke="#5a5a5a" stroke-width="1"/>
<rect x="516.46" y="90.8" width="2.8" height="11.8" fill="#2A6042"/>
<rect x="517.21" y="91.6" width="1.3" height="10.2" fill="#5A9E78"/>
<line x1="520.99" y1="84.4" x2="520.99" y2="100.0" stroke="#5a5a5a" stroke-width="1"/>
<rect x="519.59" y="93.8" width="2.8" height="3.4" fill="#74201A"/>
<rect x="520.34" y="94.6" width="1.3" height="1.8" fill="#CA4233"/>
<line x1="524.12" y1="97.0" x2="524.12" y2="114.4" stroke="#5a5a5a" stroke-width="1"/>
<rect x="522.72" y="97.8" width="2.8" height="14.4" fill="#74201A"/>
<rect x="523.47" y="98.6" width="1.3" height="12.8" fill="#CA4233"/>
<line x1="527.25" y1="107.0" x2="527.25" y2="117.0" stroke="#5a5a5a" stroke-width="1"/>
<rect x="525.85" y="108.8" width="2.8" height="3.0" fill="#2A6042"/>
<rect x="526.60" y="109.6" width="1.3" height="1.4" fill="#5A9E78"/>
<line x1="530.38" y1="100.0" x2="530.38" y2="113.0" stroke="#5a5a5a" stroke-width="1"/>
<rect x="528.98" y="102.2" width="2.8" height="9.0" fill="#2A6042"/>
<rect x="529.73" y="103.0" width="1.3" height="7.4" fill="#5A9E78"/>
<line x1="533.50" y1="90.0" x2="533.50" y2="102.0" stroke="#5a5a5a" stroke-width="1"/>
<rect x="532.10" y="94.2" width="2.8" height="5.4" fill="#2A6042"/>
<rect x="532.85" y="95.0" width="1.3" height="3.8" fill="#5A9E78"/>
<line x1="536.63" y1="93.6" x2="536.63" y2="113.0" stroke="#5a5a5a" stroke-width="1"/>
<rect x="535.23" y="96.8" width="2.8" height="14.4" fill="#74201A"/>
<rect x="535.98" y="97.6" width="1.3" height="12.8" fill="#CA4233"/>
<line x1="539.76" y1="107.0" x2="539.76" y2="152.0" stroke="#5a5a5a" stroke-width="1"/>
<rect x="538.36" y="109.8" width="2.8" height="39.4" fill="#74201A"/>
<rect x="539.11" y="110.6" width="1.3" height="37.8" fill="#CA4233"/>
<line x1="542.89" y1="142.0" x2="542.89" y2="176.0" stroke="#5a5a5a" stroke-width="1"/>
<rect x="541.49" y="147.4" width="2.8" height="26.8" fill="#74201A"/>
<rect x="542.24" y="148.2" width="1.3" height="25.2" fill="#CA4233"/>
<line x1="546.02" y1="166.0" x2="546.02" y2="191.0" stroke="#5a5a5a" stroke-width="1"/>
<rect x="544.62" y="171.8" width="2.8" height="17.4" fill="#74201A"/>
<rect x="545.37" y="172.6" width="1.3" height="15.8" fill="#CA4233"/>
<line x1="549.14" y1="180.0" x2="549.14" y2="223.0" stroke="#5a5a5a" stroke-width="1"/>
<rect x="547.74" y="188.8" width="2.8" height="33.0" fill="#74201A"/>
<rect x="548.49" y="189.6" width="1.3" height="31.4" fill="#CA4233"/>
<line x1="552.27" y1="203.0" x2="552.27" y2="241.6" stroke="#5a5a5a" stroke-width="1"/>
<rect x="550.87" y="208.2" width="2.8" height="13.0" fill="#2A6042"/>
<rect x="551.62" y="209.0" width="1.3" height="11.4" fill="#5A9E78"/>
<line x1="555.40" y1="193.0" x2="555.40" y2="220.0" stroke="#5a5a5a" stroke-width="1"/>
<rect x="554.00" y="204.8" width="2.8" height="9.0" fill="#74201A"/>
<rect x="554.75" y="205.6" width="1.3" height="7.4" fill="#CA4233"/>
<line x1="558.53" y1="190.0" x2="558.53" y2="216.0" stroke="#5a5a5a" stroke-width="1"/>
<rect x="557.13" y="197.8" width="2.8" height="15.4" fill="#2A6042"/>
<rect x="557.88" y="198.6" width="1.3" height="13.8" fill="#5A9E78"/>
<line x1="561.66" y1="197.0" x2="561.66" y2="207.0" stroke="#5a5a5a" stroke-width="1"/>
<rect x="560.26" y="199.8" width="2.8" height="5.4" fill="#74201A"/>
<rect x="561.01" y="200.6" width="1.3" height="3.8" fill="#CA4233"/>
<line x1="564.78" y1="201.0" x2="564.78" y2="214.0" stroke="#5a5a5a" stroke-width="1"/>
<rect x="563.38" y="203.4" width="2.8" height="9.2" fill="#74201A"/>
<rect x="564.13" y="204.2" width="1.3" height="7.6" fill="#CA4233"/>
<line x1="567.91" y1="204.0" x2="567.91" y2="237.0" stroke="#5a5a5a" stroke-width="1"/>
<rect x="566.51" y="209.8" width="2.8" height="25.4" fill="#74201A"/>
<rect x="567.26" y="210.6" width="1.3" height="23.8" fill="#CA4233"/>
<line x1="571.04" y1="223.0" x2="571.04" y2="272.0" stroke="#5a5a5a" stroke-width="1"/>
<rect x="569.64" y="233.8" width="2.8" height="36.0" fill="#74201A"/>
<rect x="570.39" y="234.6" width="1.3" height="34.4" fill="#CA4233"/>
<line x1="574.17" y1="251.0" x2="574.17" y2="281.0" stroke="#5a5a5a" stroke-width="1"/>
<rect x="572.77" y="254.2" width="2.8" height="13.0" fill="#2A6042"/>
<rect x="573.52" y="255.0" width="1.3" height="11.4" fill="#5A9E78"/>
<line x1="577.30" y1="247.0" x2="577.30" y2="277.0" stroke="#5a5a5a" stroke-width="1"/>
<rect x="575.90" y="250.8" width="2.8" height="15.4" fill="#74201A"/>
<rect x="576.65" y="251.6" width="1.3" height="13.8" fill="#CA4233"/>
<line x1="580.42" y1="243.0" x2="580.42" y2="275.0" stroke="#5a5a5a" stroke-width="1"/>
<rect x="579.02" y="245.8" width="2.8" height="21.4" fill="#2A6042"/>
<rect x="579.77" y="246.6" width="1.3" height="19.8" fill="#5A9E78"/>
<line x1="583.55" y1="225.0" x2="583.55" y2="249.0" stroke="#5a5a5a" stroke-width="1"/>
<rect x="582.15" y="232.2" width="2.8" height="7.0" fill="#2A6042"/>
<rect x="582.90" y="233.0" width="1.3" height="5.4" fill="#5A9E78"/>
<line x1="586.68" y1="209.0" x2="586.68" y2="234.0" stroke="#5a5a5a" stroke-width="1"/>
<rect x="585.28" y="215.4" width="2.8" height="15.8" fill="#2A6042"/>
<rect x="586.03" y="216.2" width="1.3" height="14.2" fill="#5A9E78"/>
<line x1="589.81" y1="201.0" x2="589.81" y2="221.0" stroke="#5a5a5a" stroke-width="1"/>
<rect x="588.41" y="212.2" width="2.8" height="2.4" fill="#2A6042"/>
<rect x="589.16" y="212.6" width="1.3" height="1.6" fill="#5A9E78"/>
<line x1="592.94" y1="212.0" x2="592.94" y2="235.0" stroke="#5a5a5a" stroke-width="1"/>
<rect x="591.54" y="214.8" width="2.8" height="1.8" fill="#2A6042"/>
<rect x="592.29" y="215.2" width="1.3" height="1.0" fill="#5A9E78"/>
<line x1="596.06" y1="202.0" x2="596.06" y2="226.0" stroke="#5a5a5a" stroke-width="1"/>
<rect x="594.66" y="215.8" width="2.8" height="7.4" fill="#74201A"/>
<rect x="595.41" y="216.6" width="1.3" height="5.8" fill="#CA4233"/>
<line x1="599.19" y1="207.0" x2="599.19" y2="238.0" stroke="#5a5a5a" stroke-width="1"/>
<rect x="597.79" y="214.2" width="2.8" height="6.0" fill="#2A6042"/>
<rect x="598.54" y="215.0" width="1.3" height="4.4" fill="#5A9E78"/>
<line x1="602.32" y1="188.0" x2="602.32" y2="229.0" stroke="#5a5a5a" stroke-width="1"/>
<rect x="600.92" y="214.8" width="2.8" height="3.8" fill="#74201A"/>
<rect x="601.67" y="215.6" width="1.3" height="2.2" fill="#CA4233"/>
<line x1="605.45" y1="185.0" x2="605.45" y2="228.4" stroke="#5a5a5a" stroke-width="1"/>
<rect x="604.05" y="189.4" width="2.8" height="31.2" fill="#2A6042"/>
<rect x="604.80" y="190.2" width="1.3" height="29.6" fill="#5A9E78"/>
<line x1="0" y1="189.9" x2="636" y2="189.9" stroke="#74B08F" stroke-width="1.2" stroke-dasharray="1 2"/>
<circle cx="605.3" cy="372.9" r="9.1" fill="#FFFFFF" stroke="#9B27AF" stroke-width="1.6"/>
<path d="M608.5 367.9 L601.7 373.5 L605.0 373.5 L602.3 378.0 L609.1 372.3 L605.8 372.3 Z" fill="#9B27AF"/>
</g>
<line x1="636.5" y1="0" x2="636.5" y2="412" stroke="#5e5e5e" stroke-width="1"/>
<line x1="0" y1="385.5" x2="680" y2="385.5" stroke="#5e5e5e" stroke-width="1"/>
<text x="645.6" y="50.3" font-size="10.5" fill="#555" textLength="22.6" lengthAdjust="spacingAndGlyphs">700'0</text>
<text x="645.6" y="100.8" font-size="10.5" fill="#555" textLength="22.6" lengthAdjust="spacingAndGlyphs">680'0</text>
<text x="645.6" y="151.2" font-size="10.5" fill="#555" textLength="22.6" lengthAdjust="spacingAndGlyphs">660'0</text>
<text x="645.6" y="201.7" font-size="10.5" fill="#555" textLength="22.6" lengthAdjust="spacingAndGlyphs">640'0</text>
<text x="645.6" y="252.1" font-size="10.5" fill="#555" textLength="22.6" lengthAdjust="spacingAndGlyphs">620'0</text>
<text x="645.6" y="302.6" font-size="10.5" fill="#555" textLength="22.6" lengthAdjust="spacingAndGlyphs">600'0</text>
<text x="645.6" y="353.0" font-size="10.5" fill="#555" textLength="22.6" lengthAdjust="spacingAndGlyphs">580'0</text>
<path d="M636 182.0 H671.2 a2 2 0 0 1 2 2 V196.0 a2 2 0 0 1 -2 2 H636 Z" fill="#6EA484"/>
<text x="645.5" y="193.6" font-size="10" font-weight="bold" fill="#ffffff" textLength="22.8" lengthAdjust="spacingAndGlyphs">643'0</text>
<path d="M636 167.6 H671.2 a2 2 0 0 1 2 2 V181.6 a2 2 0 0 1 -2 2 H636 Z" fill="#0505F5"/>
<text x="645.5" y="179.2" font-size="10" font-weight="bold" fill="#ffffff" textLength="22.8" lengthAdjust="spacingAndGlyphs">648'4</text>
<path d="M636 121.9 H671.2 a2 2 0 0 1 2 2 V135.9 a2 2 0 0 1 -2 2 H636 Z" fill="#0505F5"/>
<text x="645.5" y="133.5" font-size="10" font-weight="bold" fill="#ffffff" textLength="22.8" lengthAdjust="spacingAndGlyphs">666'6</text>
<path d="M636 231.9 H671.2 a2 2 0 0 1 2 2 V245.9 a2 2 0 0 1 -2 2 H636 Z" fill="#0505F5"/>
<text x="645.5" y="243.5" font-size="10" font-weight="bold" fill="#ffffff" textLength="22.8" lengthAdjust="spacingAndGlyphs">623'2</text>
<path d="M636 273.9 H671.2 a2 2 0 0 1 2 2 V287.9 a2 2 0 0 1 -2 2 H636 Z" fill="#0505F5"/>
<text x="645.5" y="285.5" font-size="10" font-weight="bold" fill="#ffffff" textLength="22.8" lengthAdjust="spacingAndGlyphs">606'4</text>
<text x="86.8" y="400.7" font-size="10.5" fill="#555" textLength="17.0" lengthAdjust="spacingAndGlyphs">Aug</text>
<text x="158.6" y="400.7" font-size="10.5" fill="#555" textLength="17.2" lengthAdjust="spacingAndGlyphs">Sep</text>
<text x="289.6" y="400.7" font-size="10.5" fill="#555" textLength="17.0" lengthAdjust="spacingAndGlyphs">Nov</text>
<text x="417.8" y="400.7" font-size="10.5" fill="#555" textLength="23.8" lengthAdjust="spacingAndGlyphs" font-weight="bold">2023</text>
<text x="543.6" y="400.7" font-size="10.5" fill="#555" textLength="16.0" lengthAdjust="spacingAndGlyphs">Mar</text>
<text x="615.6" y="400.7" font-size="10.5" fill="#555" textLength="16.2" lengthAdjust="spacingAndGlyphs">Apr</text>
<circle cx="658.8" cy="398.3" r="4.3" fill="none" stroke="#222" stroke-width="1.5"/>
<line x1="663.60" y1="398.30" x2="665.50" y2="398.30" stroke="#222" stroke-width="1.9"/>
<line x1="662.19" y1="401.69" x2="663.54" y2="403.04" stroke="#222" stroke-width="1.9"/>
<line x1="658.80" y1="403.10" x2="658.80" y2="405.00" stroke="#222" stroke-width="1.9"/>
<line x1="655.41" y1="401.69" x2="654.06" y2="403.04" stroke="#222" stroke-width="1.9"/>
<line x1="654.00" y1="398.30" x2="652.10" y2="398.30" stroke="#222" stroke-width="1.9"/>
<line x1="655.41" y1="394.91" x2="654.06" y2="393.56" stroke="#222" stroke-width="1.9"/>
<line x1="658.80" y1="393.50" x2="658.80" y2="391.60" stroke="#222" stroke-width="1.9"/>
<line x1="662.19" y1="394.91" x2="663.54" y2="393.56" stroke="#222" stroke-width="1.9"/>
<rect x="0" y="411" width="680" height="1" fill="#E3E3EA"/>
</svg>
</body></html>
